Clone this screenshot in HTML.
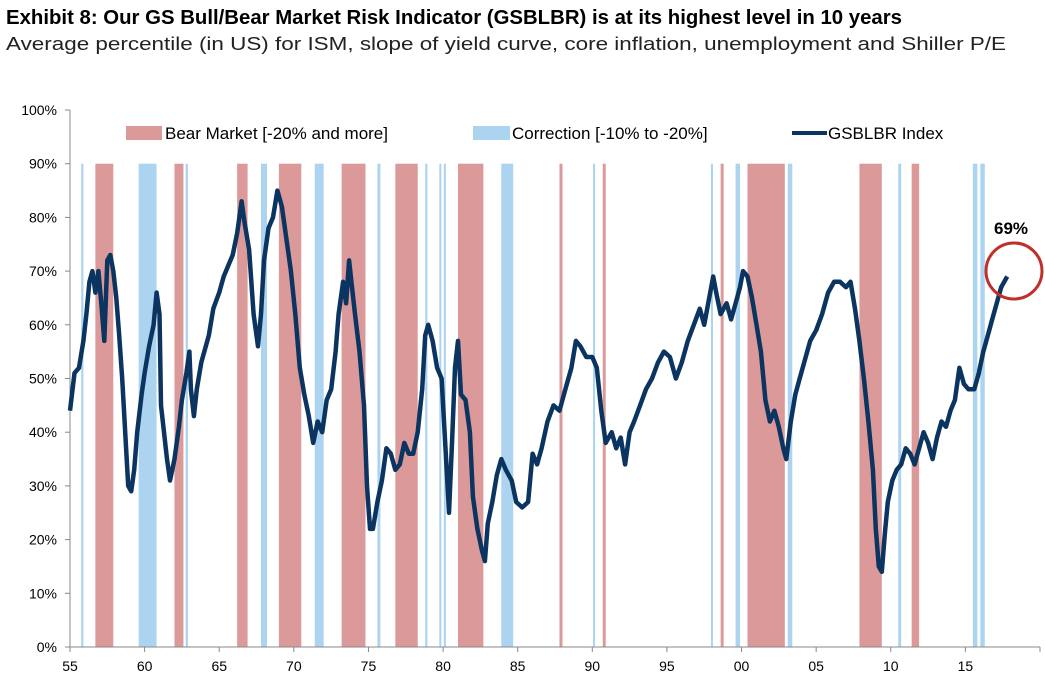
<!DOCTYPE html>
<html><head><meta charset="utf-8"><style>
body{margin:0;background:#fff}
svg{display:block;font-family:"Liberation Sans",Arial,sans-serif}
</style></head><body>
<svg id="chart" width="1045" height="682" viewBox="0 0 1045 682">
<text x="6" y="24" font-size="20" font-weight="bold" textLength="896" lengthAdjust="spacingAndGlyphs">Exhibit 8: Our GS Bull/Bear Market Risk Indicator (GSBLBR) is at its highest level in 10 years</text>
<text x="6" y="50" font-size="18" fill="#222" textLength="1000" lengthAdjust="spacingAndGlyphs">Average percentile (in US) for ISM, slope of yield curve, core inflation, unemployment and Shiller P/E</text>
<g id="bands"></g>
<g id="axes"></g>
<path id="line" fill="none" stroke="#0b3560" stroke-width="4.5" stroke-linejoin="round"/>
<g>
<rect x="126" y="126" width="36" height="14" fill="#dc9999"/>
<text x="165" y="139" font-size="17">Bear Market [-20% and more]</text>
<rect x="473" y="126" width="37" height="14" fill="#acd3ef"/>
<text x="512" y="139" font-size="17">Correction [-10% to -20%]</text>
<line x1="792" y1="133" x2="827" y2="133" stroke="#0b3560" stroke-width="4"/>
<text x="828" y="139" font-size="17">GSBLBR Index</text>
</g>
<circle cx="1014" cy="271" r="28" fill="none" stroke="#c0302b" stroke-width="3"/>
<text x="1011" y="234" font-size="17" font-weight="bold" text-anchor="middle">69%</text>
</svg>
<script>
const bearBands=[[56.7,57.9],[62.0,62.6],[66.2,66.9],[69.0,70.5],[73.2,74.8],[76.8,78.3],[81.0,82.7],[87.8,88.0],[90.7,90.9],[98.6,98.8],[100.4,102.9],[107.9,109.4],[111.4,111.9]];
const corrBands=[[55.75,55.9],[59.6,60.8],[62.75,62.9],[67.8,68.2],[71.4,72.0],[75.6,75.8],[78.8,78.95],[79.75,79.85],[80.05,80.15],[83.9,84.7],[90.05,90.15],[97.95,98.05],[99.6,99.9],[103.1,103.4],[110.5,110.7],[115.5,115.8],[116.0,116.3]];
const years=[55.0,55.3,55.6,55.9,56.1,56.3,56.5,56.7,56.9,57.1,57.3,57.5,57.7,57.9,58.1,58.3,58.5,58.7,58.9,59.1,59.3,59.5,59.8,60.0,60.3,60.6,60.8,61.0,61.1,61.3,61.5,61.7,62.0,62.3,62.5,62.8,63.0,63.1,63.3,63.5,63.8,64.0,64.3,64.6,65.0,65.3,65.6,65.9,66.2,66.5,66.7,67.0,67.3,67.6,67.8,68.0,68.3,68.6,68.9,69.2,69.5,69.8,70.1,70.4,70.7,71.0,71.3,71.6,71.9,72.2,72.5,72.8,73.0,73.3,73.5,73.7,73.9,74.1,74.4,74.7,74.9,75.1,75.3,75.6,75.9,76.2,76.5,76.8,77.1,77.4,77.7,78.0,78.3,78.6,78.8,79.0,79.3,79.6,79.9,80.2,80.4,80.6,80.8,81.0,81.2,81.5,81.8,82.0,82.3,82.6,82.8,83.0,83.3,83.6,83.9,84.2,84.6,84.9,85.3,85.7,86.0,86.3,86.6,87.0,87.4,87.8,88.2,88.6,88.9,89.2,89.6,90.0,90.3,90.6,90.9,91.3,91.6,91.9,92.2,92.5,92.8,93.2,93.6,94.0,94.4,94.8,95.2,95.6,96.0,96.4,96.8,97.2,97.5,97.9,98.1,98.3,98.6,99.0,99.3,99.6,99.9,100.1,100.4,100.7,101.0,101.3,101.6,101.9,102.2,102.5,102.8,103.0,103.3,103.6,103.9,104.2,104.6,105.0,105.4,105.8,106.2,106.6,107.0,107.3,107.6,107.9,108.2,108.5,108.8,109.0,109.2,109.4,109.6,109.8,110.1,110.4,110.7,111.0,111.3,111.6,111.9,112.2,112.5,112.8,113.1,113.4,113.7,114.0,114.3,114.6,114.9,115.2,115.6,115.9,116.2,116.5,116.8,117.1,117.4,117.8];
const values=[44,51,52,57,62,68,70,66,70,64,57,72,73,70,65,58,50,40,30,29,33,40,47,51,56,60,66,62,45,40,35,31,35,41,46,51,55,48,43,48,53,55,58,63,66,69,71,73,77,83,79,74,62,56,62,72,78,80,85,82,76,70,62,52,47,43,38,42,40,46,48,55,62,68,64,72,67,62,55,45,30,22,22,27,31,37,36,33,34,38,36,36,40,48,58,60,57,52,50,35,25,38,52,57,47,46,40,28,22,18,16,23,27,32,35,33,31,27,26,27,36,34,37,42,45,44,48,52,57,56,54,54,52,44,38,40,37,39,34,40,42,45,48,50,53,55,54,50,53,57,60,63,60,66,69,66,62,64,61,64,67,70,69,65,60,55,46,42,44,41,37,35,42,47,50,53,57,59,62,66,68,68,67,68,63,57,50,42,33,22,15,14,21,27,31,33,34,37,36,34,37,40,38,35,39,42,41,44,46,52,49,48,48,51,55,58,61,64,67,69];
const yTicks=[0,10,20,30,40,50,60,70,80,90,100];
const xTickYears=[55,60,65,70,75,80,85,90,95,100,105,110,115];
const xTickLabels=["55","60","65","70","75","80","85","90","95","00","05","10","15"];
const NS='http://www.w3.org/2000/svg';
const X0=70,X1=1040,Y0=647,Y1=110;
const xs=y=>X0+(y-55)*(X1-X0)/65;
const ys=v=>Y0-v*(Y0-Y1)/100;
function mk(t,a,p){const e=document.createElementNS(NS,t);for(const k in a)e.setAttribute(k,a[k]);p.appendChild(e);return e;}
const bg=document.getElementById('bands');
bearBands.forEach(b=>{const r=mk('rect',{x:xs(b[0]),y:ys(90),width:Math.max(2,xs(b[1])-xs(b[0])),height:ys(0)-ys(90),fill:'#dc9999'},bg);

});
corrBands.forEach(b=>{const r=mk('rect',{x:xs(b[0]),y:ys(90),width:Math.max(2,xs(b[1])-xs(b[0])),height:ys(0)-ys(90),fill:'#acd3ef'},bg);

});
const ax=document.getElementById('axes');
const yl=mk('line',{x1:X0,y1:Y1,x2:X0,y2:Y0,stroke:'#888'},ax);


const xl=mk('line',{x1:X0,y1:Y0,x2:X1,y2:Y0,stroke:'#888'},ax);


yTicks.forEach(v=>{mk('line',{x1:X0-5,y1:ys(v),x2:X0,y2:ys(v),stroke:'#888'},ax);
const t=mk('text',{x:X0-13,y:ys(v)+5,'font-size':14,'text-anchor':'end'},ax);t.textContent=v+'%';

});
xTickYears.forEach((y,i)=>{mk('line',{x1:xs(y),y1:Y0,x2:xs(y),y2:Y0+5,stroke:'#888'},ax);
const t=mk('text',{x:xs(y),y:Y0+24,'font-size':14,'text-anchor':'middle'},ax);t.textContent=xTickLabels[i];

});
mk('line',{x1:X1,y1:Y0,x2:X1,y2:Y0+5,stroke:'#888'},ax);
document.getElementById('line').setAttribute('d',years.map((y,i)=>(i?'L':'M')+xs(y).toFixed(1)+','+ys(values[i]).toFixed(1)).join(''));
</script>
</body></html>
